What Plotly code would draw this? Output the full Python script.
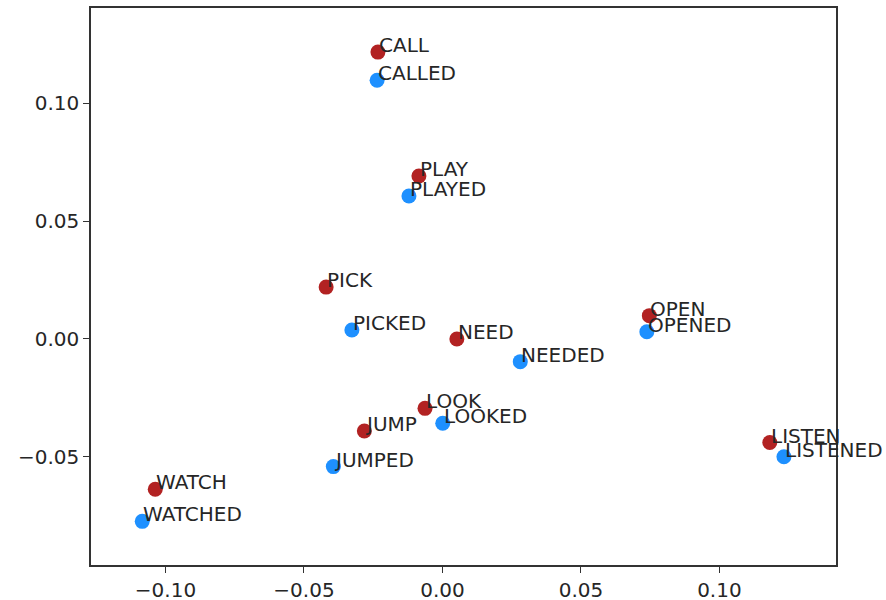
import plotly.graph_objects as go

# Base verb forms (red) and their past tense (blue), 2-D embedding coordinates
base_words = ["CALL", "PLAY", "PICK", "NEED", "OPEN", "LOOK", "JUMP", "WATCH", "LISTEN"]
base_x = [-0.0233, -0.0085, -0.0420, 0.0052, 0.0747, -0.0063, -0.0282, -0.1037, 0.1182]
base_y = [0.1216, 0.0691, 0.0220, 0.0000, 0.0099, -0.0294, -0.0390, -0.0637, -0.0439]

past_words = ["CALLED", "PLAYED", "PICKED", "NEEDED", "OPENED", "LOOKED", "JUMPED", "WATCHED", "LISTENED"]
past_x = [-0.0236, -0.0121, -0.0327, 0.0281, 0.0738, 0.0001, -0.0394, -0.1084, 0.1233]
past_y = [0.1097, 0.0606, 0.0038, -0.0096, 0.0031, -0.0357, -0.0541, -0.0773, -0.0499]

x_ticks = [-0.10, -0.05, 0.00, 0.05, 0.10]
y_ticks = [-0.05, 0.00, 0.05, 0.10]

FONT = "DejaVu Sans"
TEXT_COLOR = "#262626"

fig = go.Figure()
fig.add_trace(go.Scatter(
    x=base_x, y=base_y, mode="markers",
    marker=dict(color="#b22222", size=15, line=dict(width=0)),
    showlegend=False, hoverinfo="skip",
))
fig.add_trace(go.Scatter(
    x=past_x, y=past_y, mode="markers",
    marker=dict(color="#1e90ff", size=15, line=dict(width=0)),
    showlegend=False, hoverinfo="skip",
))

# Word labels: left edge at the point, baseline at the point
for words, xs, ys in ((base_words, base_x, base_y), (past_words, past_x, past_y)):
    for w, x, y in zip(words, xs, ys):
        fig.add_annotation(
            x=x, y=y, text=w, showarrow=False,
            xanchor="left", yanchor="bottom", xshift=-1, yshift=-7,
            font=dict(family=FONT, size=20, color=TEXT_COLOR),
        )

axis_common = dict(
    showgrid=False, zeroline=False, automargin=False,
    showline=True, linecolor="#333333", linewidth=1.5, mirror=True,
    ticks="outside", ticklen=6, tickwidth=1.3, tickcolor="#333333",
    tickfont=dict(family=FONT, size=20, color=TEXT_COLOR),
)

fig.update_xaxes(
    range=[-0.1269, 0.1421],
    tickvals=x_ticks,
    ticktext=["\u22120.10", "\u22120.05", "0.00", "0.05", "0.10"],
    **axis_common,
)
fig.update_yaxes(
    range=[-0.0958, 0.1403],
    tickvals=y_ticks,
    ticktext=["\u22120.05", "0.00", "0.05", "0.10"],
    **axis_common,
)

fig.update_layout(
    width=886, height=600,
    margin=dict(l=91, r=50, t=8, b=35),
    paper_bgcolor="white", plot_bgcolor="white",
)

fig.write_html("out.html")
